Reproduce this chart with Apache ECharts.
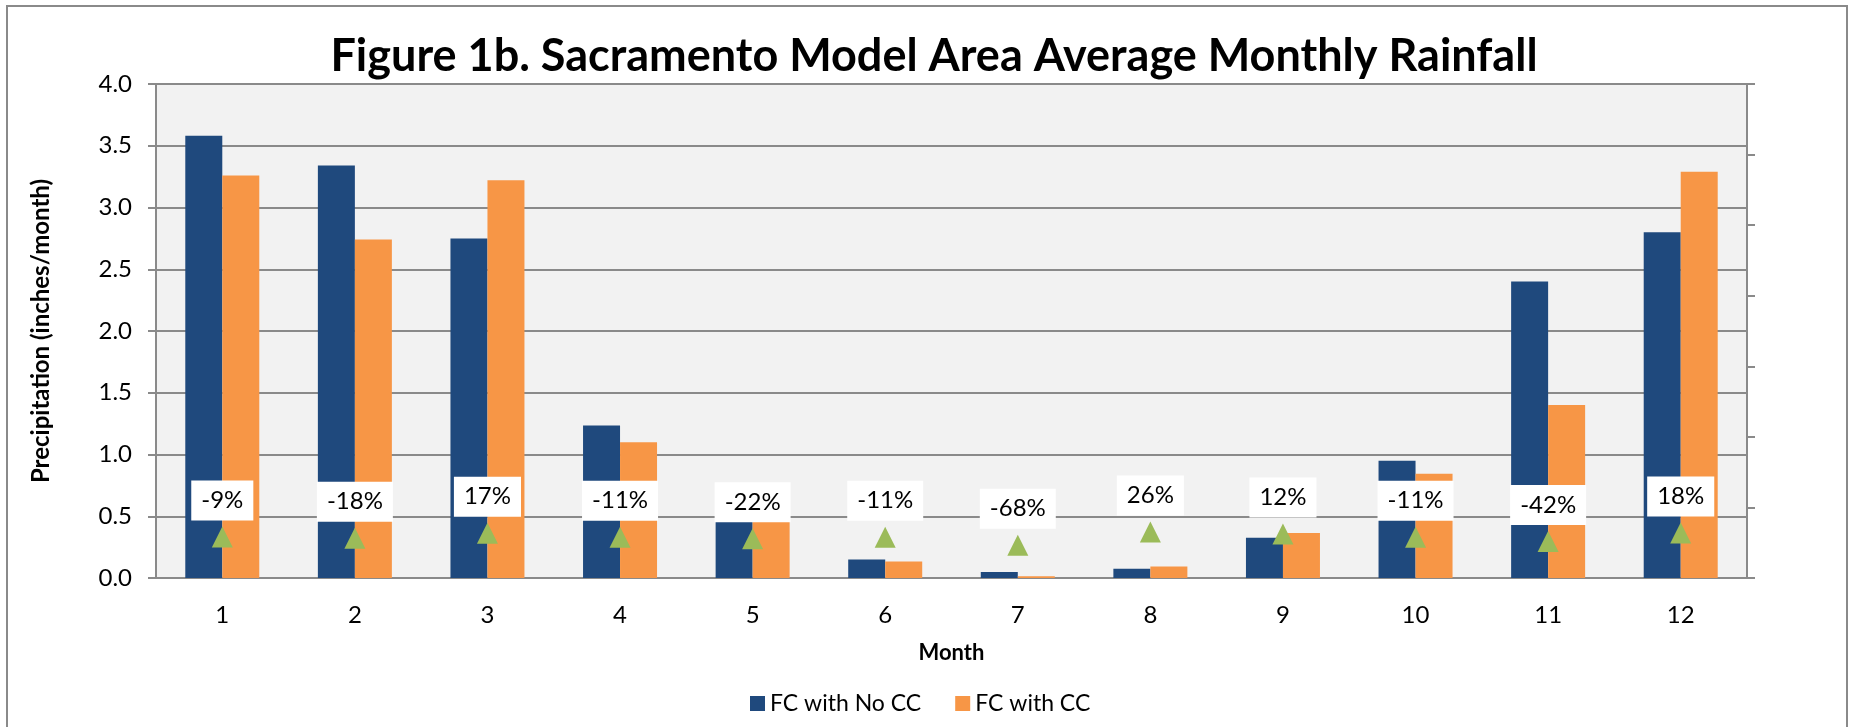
<!DOCTYPE html>
<html>
<head>
<meta charset="utf-8">
<script src="https://cdn.jsdelivr.net/npm/echarts@6/dist/echarts.min.js"></script>
<style>
  html, body { margin: 0; padding: 0; background: #fff; }
  #chart { width: 1855px; height: 727px; }
</style>
</head>
<body>
<div id="chart"></div>
<script>
// monthly rainfall, inches/month
const months = ['1', '2', '3', '4', '5', '6', '7', '8', '9', '10', '11', '12']
const noCC = [3.58, 3.34, 2.75, 1.235, 0.61, 0.15, 0.048, 0.074, 0.325, 0.95, 2.40, 2.80]
const withCC = [3.26, 2.74, 3.22, 1.10, 0.48, 0.134, 0.015, 0.093, 0.365, 0.845, 1.40, 3.29]
// percent change (drawn on the unlabeled secondary axis)
const pctChange = [-9, -18, 17, -11, -22, -11, -68, 26, 12, -11, -42, 18]
const rightTicks = [-300, 200, 700, 1200, 1700, 2200, 2700, 3200]

const font = 'Lato'
const gray = '#8a8a8a'

const chart = echarts.init(document.getElementById('chart'))

chart.setOption({
	animation: false,
	textStyle: { fontFamily: font, color: '#000' },
	title: {
		text: 'Figure 1b. Sacramento Model Area Average Monthly Rainfall',
		left: 929,
		textAlign: 'center',
		top: 29,
		textStyle: { fontSize: 45, fontWeight: 'bold', fontFamily: font, color: '#000' }
	},
	graphic: [{
		type: 'rect',
		shape: { x: 7, y: 6, width: 1840, height: 800 },
		style: { fill: null, stroke: gray, lineWidth: 2 },
		silent: true
	}],
	legend: {
		data: ['FC with No CC', 'FC with CC'],
		left: 745,
		top: 687,
		icon: 'rect',
		itemWidth: 15,
		itemHeight: 15,
		itemGap: 34,
		textStyle: { fontSize: 23, fontFamily: font, color: '#000' }
	},
	grid: {
		left: 156,
		right: 108,
		top: 84,
		bottom: 149,
		show: true,
		backgroundColor: '#f2f2f2',
		borderWidth: 0
	},
	xAxis: {
		type: 'category',
		data: months,
		name: 'Month',
		nameLocation: 'middle',
		nameGap: 64,
		nameTextStyle: { fontSize: 22, fontWeight: 'bold', fontFamily: font, color: '#000' },
		axisLine: { lineStyle: { color: gray, width: 2 } },
		axisTick: { length: 8, lineStyle: { color: gray, width: 2 } },
		axisLabel: { fontSize: 24, margin: 25, color: '#000' }
	},
	yAxis: [{
		type: 'value',
		min: 0,
		max: 4,
		interval: 0.5,
		name: 'Precipitation (inches/month)',
		nameLocation: 'middle',
		nameRotate: 90,
		nameGap: 103,
		nameTextStyle: { fontSize: 24, fontWeight: 'bold', fontFamily: font, color: '#000' },
		axisLine: { show: true, lineStyle: { color: gray, width: 2 } },
		axisTick: { show: true, length: 8, lineStyle: { color: gray, width: 2 } },
		axisLabel: { fontSize: 24, margin: 24, color: '#000', formatter: v => v.toFixed(1) },
		splitLine: { lineStyle: { color: gray, width: 2 } }
	}, {
		type: 'value',
		position: 'right',
		min: -300,
		max: 3200,
		axisLine: { show: true, lineStyle: { color: gray, width: 2 } },
		axisTick: { show: true, length: 8, customValues: rightTicks, lineStyle: { color: gray, width: 2 } },
		axisLabel: { show: false },
		splitLine: { show: false }
	}],
	series: [{
		name: 'FC with No CC',
		type: 'bar',
		data: noCC,
		barWidth: 37,
		barGap: '0%',
		itemStyle: { color: '#1f497d' }
	}, {
		name: 'FC with CC',
		type: 'bar',
		data: withCC,
		barWidth: 37,
		barGap: '0%',
		itemStyle: { color: '#f79646' }
	}, {
		name: 'Change',
		type: 'scatter',
		yAxisIndex: 1,
		data: pctChange,
		symbol: 'triangle',
		symbolSize: [21, 21],
		itemStyle: { color: '#9bbb59', opacity: 1 },
		label: {
			show: true,
			position: 'top',
			distance: 6,
			formatter: p => p.value + '%',
			fontSize: 24,
			fontFamily: font,
			color: '#000',
			opacity: 1,
			backgroundColor: '#fff',
			padding: [8, 10, 8, 10]
		},
		z: 5
	}]
})
</script>
</body>
</html>
